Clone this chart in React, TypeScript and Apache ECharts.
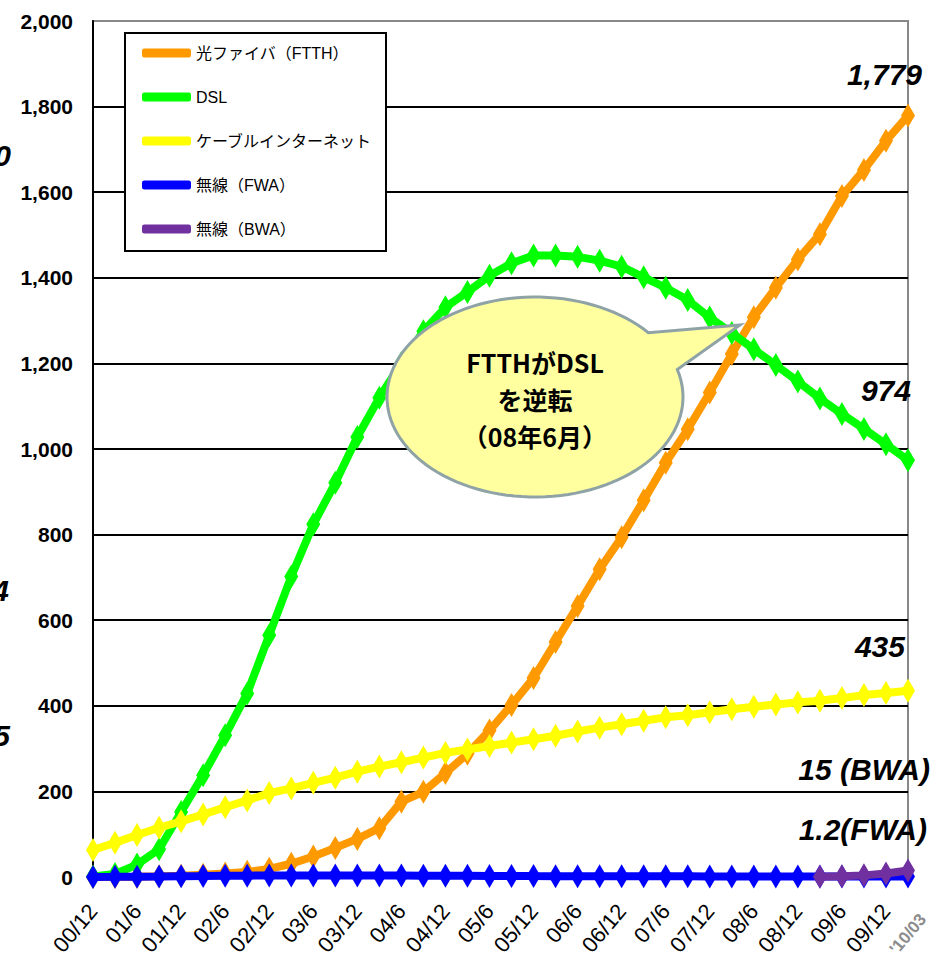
import React, { useEffect, useRef } from "react";
import * as echarts from "echarts";

const categories = [
  "00/12", "01/3", "01/6", "01/9", "01/12", "02/3", "02/6", "02/9", "02/12",
  "03/3", "03/6", "03/9", "03/12", "04/3", "04/6", "04/9", "04/12",
  "05/3", "05/6", "05/9", "05/12", "06/3", "06/6", "06/9", "06/12",
  "07/3", "07/6", "07/9", "07/12", "08/3", "08/6", "08/9", "08/12",
  "09/3", "09/6", "09/9", "09/12", "'10/03",
];

const ftth = [
  0, 0.1, 0.5, 1.5, 3, 5, 8, 12, 19, 31, 48, 68, 89, 114, 176, 199, 243, 288,
  342, 402, 465, 549, 633, 719, 794, 880, 968, 1046, 1132, 1222, 1308, 1377,
  1443, 1502, 1591, 1652, 1720, 1779,
];

const dsl = [
  1, 7, 29, 65, 152, 238, 331, 429, 565, 702, 824, 921, 1028, 1120, 1201, 1275,
  1331, 1367, 1405, 1434, 1452, 1452, 1449, 1440, 1426, 1401, 1377, 1348, 1307,
  1271, 1233, 1196, 1158, 1118, 1082, 1047, 1011, 974,
];

const cable = [
  63, 80, 98, 115, 130, 146, 163, 179, 196, 207, 220, 232, 246, 258, 268, 279,
  290, 298, 306, 314, 322, 330, 340, 349, 357, 365, 373, 378, 385, 392, 398,
  403, 408, 412, 418, 425, 430, 435,
];

const fwa = [
  0.1, 0.3, 0.8, 1.3, 1.9, 2.3, 2.8, 3.2, 3.5, 3.7, 3.7, 3.6, 3.6, 3.4, 3.3,
  3.1, 2.9, 2.7, 2.4, 2.3, 2.1, 2.0, 1.9, 1.8, 1.7, 1.6, 1.5, 1.5, 1.4, 1.4,
  1.3, 1.3, 1.3, 1.3, 1.2, 1.2, 1.2, 1.2,
];

const bwa: (number | null)[] = [
  null, null, null, null, null, null, null, null, null, null, null, null, null,
  null, null, null, null, null, null, null, null, null, null, null, null, null,
  null, null, null, null, null, null, null, 0.3, 1.5, 3.8, 8, 15,
];

const seriesNames = ["光ファイバ（FTTH）", "DSL", "ケーブルインターネット", "無線（FWA）", "無線（BWA）"];
const seriesColors = ["#FF9900", "#00FF00", "#FFFF00", "#0000FF", "#7030A0"];

const calloutText = "FTTHがDSL\nを逆転\n（08年6月）";

const LATIN = "'Liberation Sans', Arial, 'Noto Sans CJK JP', sans-serif";
const CJK = "'Noto Sans CJK JP', 'Liberation Sans', sans-serif";

function fmt(v: number) {
  return v.toLocaleString("en-US");
}

export default function App() {
  const ref = useRef<HTMLDivElement>(null);

  useEffect(() => {
    if (!ref.current) return;
    const chart = echarts.init(ref.current, undefined, { renderer: "svg" });

    const lastIdx = categories.length - 1;
    const all = [ftth, dsl, cable, fwa, bwa];
    const series = all.map((d, i) => ({
      name: seriesNames[i],
      type: "line",
      xAxisIndex: 0,
      data: d,
      symbol: "diamond",
      symbolSize: [14, 24],
      showAllSymbol: true,
      connectNulls: false,
      lineStyle: { color: seriesColors[i], width: 8 },
      itemStyle: { color: seriesColors[i] },
      z: 2 + i,
    }));

    // callout shape (ellipse with tail)
    const cx = 535, cy = 397, rx = 148, ry = 100;
    const pts: number[][] = [];
    for (let a = -16; a <= 322; a += 3) {
      const r = (a * Math.PI) / 180;
      pts.push([cx + rx * Math.cos(r), cy + ry * Math.sin(r)]);
    }
    pts.push([740, 325]);

    const last = ftth.length - 1;
    const labelStyle = (text: string, x: number, y: number) => ({
      type: "text",
      z: 200,
      style: {
        text,
        x,
        y,
        align: "right",
        verticalAlign: "middle",
        fontSize: 30,
        fontWeight: "bold",
        fontStyle: "italic",
        fontFamily: LATIN,
        fill: "#000",
      },
    });

    const baseX = {
      type: "category",
      data: categories,
      boundaryGap: false,
      position: "bottom",
      axisTick: { show: false },
      splitLine: { show: false },
    };

    chart.setOption({
      animation: false,
      grid: {
        left: 93,
        right: 27,
        top: 21,
        bottom: 92,
        show: true,
        borderColor: "#888",
        borderWidth: 2,
        containLabel: false,
      },
      legend: {
        orient: "vertical",
        left: 125,
        top: 33,
        padding: [10, 14, 12, 17],
        itemGap: 24,
        itemWidth: 49,
        itemHeight: 9,
        icon: "roundRect",
        backgroundColor: "#fff",
        borderColor: "#000",
        borderWidth: 2,
        data: seriesNames,
        textStyle: { fontSize: 16, fontFamily: LATIN, color: "#000", lineHeight: 20 },
      },
      xAxis: [
        {
          ...baseX,
          axisLine: { show: true, lineStyle: { color: "#000", width: 2 } },
          axisLabel: {
            interval: (i: number) => i % 2 === 0 && i !== lastIdx,
            rotate: 50,
            margin: 30,
            fontSize: 22,
            fontFamily: LATIN,
            color: "#000",
          },
        },
        {
          ...baseX,
          offset: 0,
          axisLine: { show: false },
          axisLabel: {
            interval: (i: number) => i === lastIdx,
            showMaxLabel: true,
            rotate: 50,
            align: "center",
            verticalAlign: "middle",
            margin: 57,
            fontSize: 17,
            fontWeight: "bold",
            fontFamily: LATIN,
            color: "#8c8c8c",
          },
        },
      ],
      yAxis: {
        type: "value",
        min: 0,
        max: 2000,
        interval: 200,
        axisLine: { show: true, lineStyle: { color: "#000", width: 2 } },
        axisTick: { show: false },
        splitLine: { show: true, showMaxLine: false, lineStyle: { color: "#000", width: 2 } },
        axisLabel: {
          margin: 20,
          fontSize: 21,
          fontWeight: "bold",
          fontFamily: LATIN,
          color: "#000",
          formatter: (v: number) => fmt(v),
        },
      },
      series,
      graphic: [
        {
          type: "polygon",
          z: 100,
          shape: { points: pts },
          style: { fill: "#FFFF9F", stroke: "#8FA3A6", lineWidth: 3 },
        },
        {
          type: "text",
          z: 101,
          style: {
            text: calloutText,
            x: cx,
            y: cy + 2,
            align: "center",
            verticalAlign: "middle",
            fontSize: 25,
            fontWeight: "bold",
            fontFamily: CJK,
            lineHeight: 37,
            fill: "#000",
          },
        },
        labelStyle(fmt(ftth[last]), 922, 74),
        labelStyle(fmt(dsl[last]), 911, 390),
        labelStyle(fmt(cable[last]), 905, 646),
        labelStyle(`${bwa[last]} (BWA)`, 930, 769),
        labelStyle(`${fwa[last]}(FWA)`, 927, 829),
        labelStyle("0", 11, 155),
        labelStyle("4", 9, 590),
        labelStyle("5", 10, 735),
      ],
    });

    return () => chart.dispose();
  }, []);

  return (
    <div
      ref={ref}
      style={{ position: "fixed", left: 0, top: 0, width: 935, height: 969, background: "#fff" }}
    />
  );
}
